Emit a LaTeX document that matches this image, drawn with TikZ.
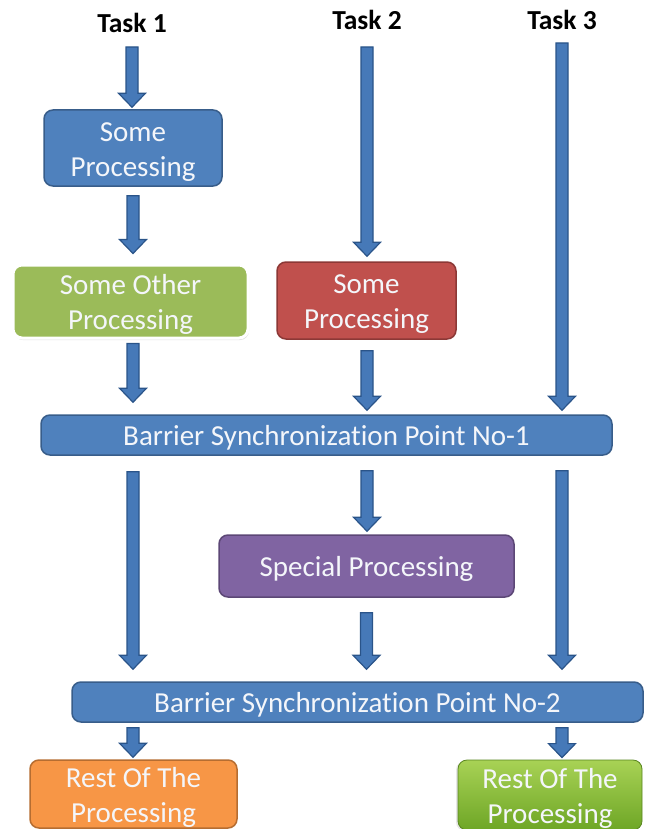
\documentclass[tikz,border=0pt]{standalone}
\usepackage{fontspec}
\setmainfont{Carlito}[Ligatures=NoCommon]
\usetikzlibrary{calc,shadows}

\definecolor{boxblue}{HTML}{4F81BD}
\definecolor{boxblueline}{HTML}{385D8A}
\definecolor{arrowfill}{HTML}{4679B8}
\definecolor{arrowline}{HTML}{2A5489}
\definecolor{leafgreen}{HTML}{9BBB59}
\definecolor{brickred}{HTML}{C0504D}
\definecolor{brickredline}{HTML}{8C3836}
\definecolor{violet}{HTML}{8064A2}
\definecolor{violetline}{HTML}{5C4776}
\definecolor{tangerine}{HTML}{F79646}
\definecolor{tangerineline}{HTML}{B66D31}
\definecolor{limetop}{HTML}{A8D255}
\definecolor{limebottom}{HTML}{6EA626}
\definecolor{offwhite}{HTML}{F4F6FA}

% invisible strut that lowers box text slightly inside its box
\newcommand\topstrut{\rule{0pt}{26pt}}

\begin{document}
\begin{tikzpicture}[x=1pt,y=-1pt,
  box/.style={rounded corners=9pt, line width=1.5pt, text=offwhite, align=center,
    inner sep=0pt, font=\fontsize{29}{35}\selectfont},
  bluebox/.style={box, draw=boxblueline, fill=boxblue},
  tasklabel/.style={inner sep=0pt, font=\bfseries\fontsize{27.5}{30}\selectfont},
  barrow/.style={draw=arrowline, fill=arrowfill, line width=1.2pt, line join=miter,
    to path={let \p1=(\tikztostart), \p2=(\tikztotarget) in
      (\x1-6pt,\y1) -- (\x1+6pt,\y1) -- (\x1+6pt,\y2+14pt) -- (\x1+13.5pt,\y2+14pt)
      -- (\x1,\y2) -- (\x1-13.5pt,\y2+14pt) -- (\x1-6pt,\y2+14pt) -- cycle}}
]
\useasboundingbox (0,0) rectangle (653,829);

% column axes
\coordinate (c1) at (133,0);
\coordinate (c2) at (367,0);
\coordinate (c3) at (562,0);

% task headings
\node[tasklabel, anchor=base] (t1) at (132,33) {Task 1};
\node[tasklabel, anchor=base] (t2) at (367,30) {Task 2};
\node[tasklabel, anchor=base] (t3) at (562,30) {Task 3};

% processing boxes
\node[bluebox, minimum width=178pt, minimum height=76pt] (p1) at (133,148)
  {\topstrut Some\\Processing};
\node[box, draw=white, line width=3pt, fill=leafgreen,
  drop shadow={opacity=0.25, shadow xshift=1pt, shadow yshift=-2pt},
  minimum width=235pt, minimum height=73pt] (p2) at (130.5,301.5)
  {\topstrut Some Other\\Processing};
\node[box, draw=brickredline, fill=brickred, minimum width=179pt, minimum height=77pt]
  (p3) at (366.5,300.5) {\topstrut Some\\Processing};

\node[bluebox, minimum width=571pt, minimum height=40pt] (b1) at (326.5,435)
  {\topstrut Barrier Synchronization Point No-1};

\node[box, draw=violetline, fill=violet, minimum width=295pt, minimum height=62pt]
  (sp) at (366.5,566) {\topstrut Special Processing};

\node[bluebox, minimum width=571pt, minimum height=40pt] (b2) at (357.5,702)
  {\topstrut Barrier Synchronization Point No-2};

\node[box, draw=tangerineline, fill=tangerine, minimum width=207pt, minimum height=68pt]
  (r1) at (133.5,794) {\topstrut Rest Of The\\Processing};
\node[box, draw=limebottom!80!black, line width=0.8pt, top color=limetop,
  bottom color=limebottom,
  drop shadow={opacity=0.2, shadow xshift=-2pt, shadow yshift=-1pt},
  minimum width=184pt, minimum height=70pt]
  (r2) at (550,795) {\topstrut Rest Of The\\Processing};

% block arrows
\draw[barrow] ([yshift=-14pt]t1.base) to ([yshift=2pt]p1.north);
\draw[barrow] ([yshift=-9pt]p1.south) to ([yshift=10pt]p2.north);
\draw[barrow] ([yshift=-4pt]c1 |- p2.south) to ([yshift=12pt]c1 |- b1.north);
\draw[barrow] ([yshift=-17pt]t2.base) to ([yshift=5pt]p3.north);
\draw[barrow] ([yshift=-11pt]c2 |- p3.south) to ([yshift=4pt]c2 |- b1.north);
\draw[barrow] ([yshift=-13pt]t3.base) to ([yshift=4pt]c3 |- b1.north);
\draw[barrow] ([yshift=-16pt]c1 |- b1.south) to ([yshift=12pt]c1 |- b2.north);
\draw[barrow] ([yshift=-15pt]c2 |- b1.south) to ([yshift=3pt]sp.north);
\draw[barrow] ([yshift=-15pt]c3 |- b1.south) to ([yshift=12pt]c3 |- b2.north);
\draw[barrow] ([yshift=-15pt]sp.south) to ([yshift=12pt]c2 |- b2.north);
\draw[barrow] ([yshift=-5pt]c1 |- b2.south) to ([yshift=2pt]c1 |- r1.north);
\draw[barrow] ([yshift=-5pt]c3 |- b2.south) to ([yshift=2pt]c3 |- r2.north);
\end{tikzpicture}
\end{document}
